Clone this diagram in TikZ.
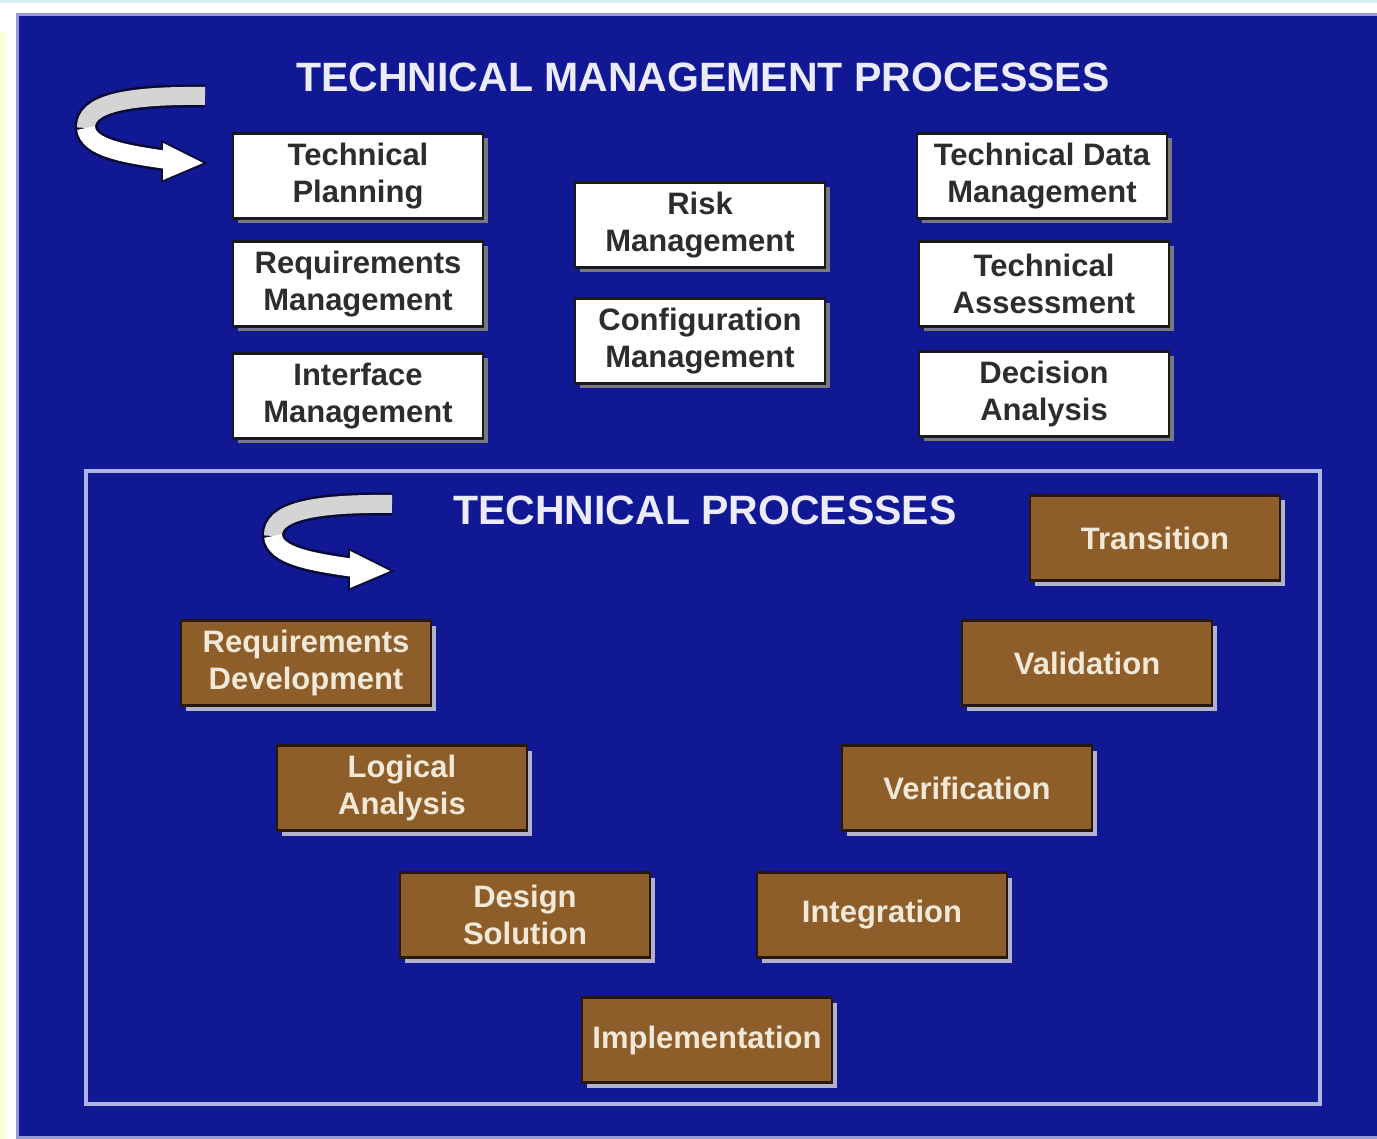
\documentclass[tikz,border=0pt]{standalone}
\usepackage{fontspec}
\setmainfont{Liberation Sans}
\usetikzlibrary{shadows}

\definecolor{bgblue}{RGB}{16,24,148}
\definecolor{edgelav}{RGB}{150,155,215}
\definecolor{framelav}{RGB}{175,180,228}
\definecolor{paleyellow}{RGB}{255,255,215}
\definecolor{palecyan}{RGB}{215,240,240}
\definecolor{boxedge}{RGB}{25,25,30}
\definecolor{boxtext}{RGB}{45,45,45}
\definecolor{mgmtshade}{RGB}{120,120,128}
\definecolor{procbrown}{RGB}{141,94,42}
\definecolor{procedge}{RGB}{40,24,8}
\definecolor{proctext}{RGB}{242,232,216}
\definecolor{procshade}{RGB}{178,178,205}
\definecolor{titlewhite}{RGB}{235,235,252}
\definecolor{arrowedge}{RGB}{10,10,55}
\definecolor{arrowgray}{RGB}{212,212,212}

\newcommand{\tmboxfont}{\fontsize{31}{37}\selectfont\bfseries}
\newcommand{\tmtitlefont}{\fontsize{41}{48}\selectfont\bfseries}

\tikzset{
  mgmtbox/.style={draw=boxedge, line width=2.5pt, fill=white, text=boxtext,
    minimum width=250pt, minimum height=85pt, align=center, font=\tmboxfont,
    general shadow={fill=mgmtshade, shadow xshift=5pt, shadow yshift=-5pt}},
  procbox/.style={draw=procedge, line width=2.5pt, fill=procbrown, text=proctext,
    minimum width=250pt, minimum height=85pt, align=center, font=\tmboxfont,
    general shadow={fill=procshade, shadow xshift=5pt, shadow yshift=-5pt}},
  bigtitle/.style={text=titlewhite, font=\tmtitlefont},
  loop arrow/.pic={
    \draw[arrowedge, line width=23pt] (0,0) .. controls (-80,-1) and (-120,8) .. (-119,32)
      .. controls (-117,52) and (-80,58) .. (-38,64);
    \filldraw[arrowedge, line width=4pt, line join=miter] (-42,47) -- (-2,67) -- (-42,84) -- cycle;
    \draw[arrowgray, line width=18pt] (0,0) .. controls (-80,-1) and (-120,8) .. (-119,32);
    \draw[white, line width=18pt] (-119,32) .. controls (-117,52) and (-80,58) .. (-38,64);
    \fill[white] (-42,47) -- (-2,67) -- (-42,84) -- cycle;
  }
}

\begin{document}
\begin{tikzpicture}[x=1pt, y=-1pt]
\useasboundingbox (0,0) rectangle (1377,1139);
% page and blue panel
\fill[white] (0,0) rectangle (1377,1139);
\fill[paleyellow] (0,33) rectangle (6,1139);
\draw[palecyan, line width=3pt] (0,1.5) -- (1377,1.5);
\fill[bgblue] (17,15) rectangle (1377,1139);
\draw[edgelav, line width=3pt] (17,1139) -- (17,15) -- (1377,15);
\draw[edgelav, line width=3pt] (17,1137) -- (1377,1137);

% technical management processes
\node[bigtitle] (mgmttitle) at (703,77) {TECHNICAL MANAGEMENT PROCESSES};
\pic at (205,96) {loop arrow};

\node[mgmtbox] (planning) at (358,176) {Technical\\Planning};
\node[mgmtbox] (reqmgmt) at (358,284) {Requirements\\Management};
\node[mgmtbox] (intfmgmt) at (358,396) {Interface\\Management};
\node[mgmtbox] (riskmgmt) at (700,225) {Risk\\Management};
\node[mgmtbox] (confmgmt) at (700,341) {Configuration\\Management};
\node[mgmtbox] (datamgmt) at (1042,176) {Technical Data\\Management};
\node[mgmtbox] (assess) at (1044,284) {Technical\\Assessment};
\node[mgmtbox] (decision) at (1044,394) {Decision\\Analysis};

% technical processes
\draw[framelav, line width=3.5pt] (86,471) rectangle (1320,1104);
\node[bigtitle] (proctitle) at (705,510) {TECHNICAL PROCESSES};
\pic at (392,504) {loop arrow};

\node[procbox] (transition) at (1155,538) {Transition};
\node[procbox] (reqdev) at (306,663) {Requirements\\Development};
\node[procbox] (validation) at (1087,663) {Validation};
\node[procbox] (logical) at (402,788) {Logical\\Analysis};
\node[procbox] (verification) at (967,788) {Verification};
\node[procbox] (design) at (525,915) {Design\\Solution};
\node[procbox] (integration) at (882,915) {Integration};
\node[procbox] (implement) at (707,1040) {Implementation};
\end{tikzpicture}
\end{document}
